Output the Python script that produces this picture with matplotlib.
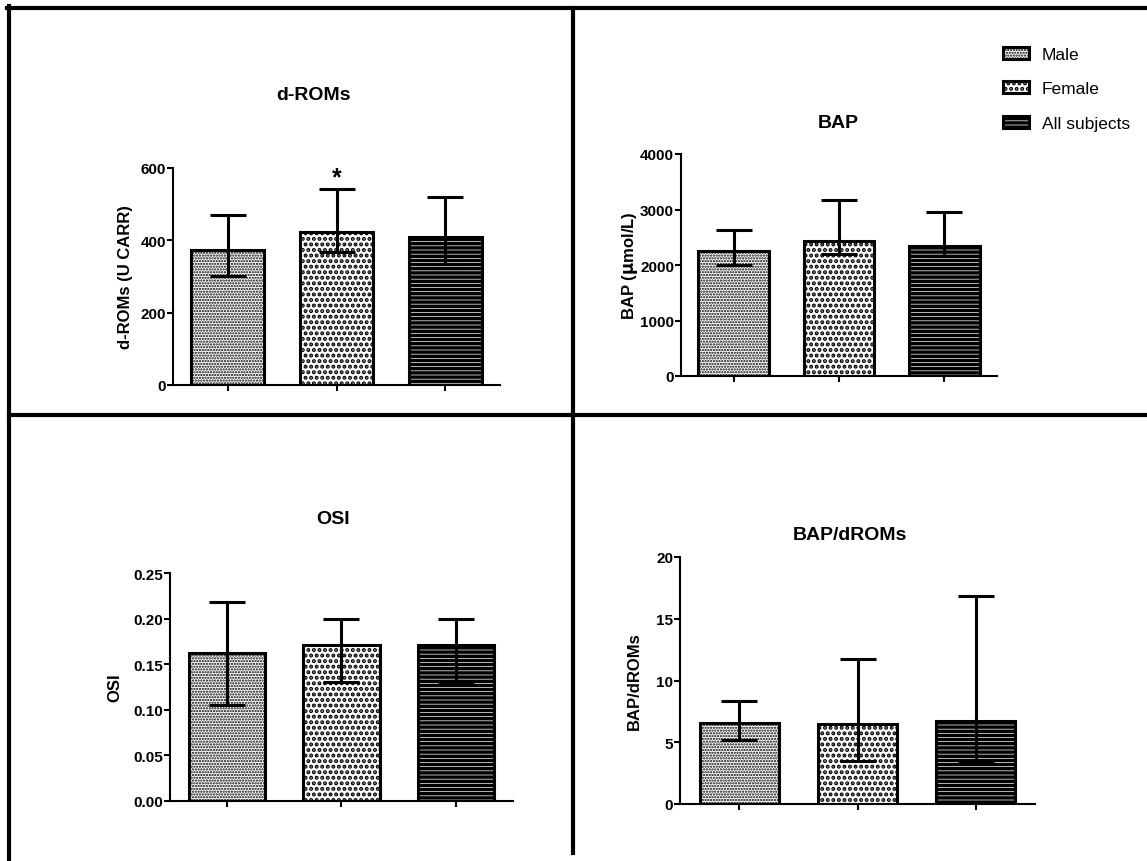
import matplotlib
matplotlib.use("Agg")
import matplotlib.pyplot as plt
from matplotlib.lines import Line2D

plt.rcParams.update(
    {
        "font.family": ["Liberation Sans", "DejaVu Sans"],
        "font.weight": "bold",
        "axes.linewidth": 1.5,
        "xtick.major.width": 1.5,
        "ytick.major.width": 1.5,
        "xtick.major.size": 4,
        "ytick.major.size": 4,
    }
)

W, H = 1147, 862

groups = ["Male", "Female", "All subjects"]
hatches = ["......", "...", "----"]
hatch_widths = [1.1, 2.0, 2.5]

droms_mean = [374, 422, 408]
droms_upper = [471, 543, 519]
droms_lower = [302, 367, 334]

bap_mean = [2245, 2436, 2334]
bap_upper = [2635, 3176, 2948]
bap_lower = [2003, 2190, 2154]

osi_mean = [0.162, 0.171, 0.171]
osi_upper = [0.218, 0.200, 0.200]
osi_lower = [0.105, 0.131, 0.131]

ratio_mean = [6.59, 6.49, 6.76]
ratio_upper = [8.32, 11.74, 16.85]
ratio_lower = [5.22, 3.52, 3.39]

droms_ticks = [0, 200, 400, 600]
bap_ticks = [0, 1000, 2000, 3000, 4000]
osi_ticks = [0.00, 0.05, 0.10, 0.15, 0.20, 0.25]
ratio_ticks = [0, 5, 10, 15, 20]


def px_axes(fig, left, top, right, bottom):
    return fig.add_axes([left / W, 1 - bottom / H, (right - left) / W, (bottom - top) / H])


def with_hatch_lw(patch, lw):
    if hasattr(patch, "set_hatch_linewidth"):
        patch.set_hatch_linewidth(lw)
    orig = patch.draw

    def draw(renderer):
        with plt.rc_context({"hatch.linewidth": lw}):
            orig(renderer)

    patch.draw = draw


def draw_panel(ax, mean, upper, lower, ticks, ylabel, fmt):
    for i, name in enumerate(groups):
        bars = ax.bar(
            i,
            mean[i],
            width=0.67,
            facecolor="white",
            edgecolor="black",
            linewidth=2.2,
            hatch=hatches[i],
            label=name,
            zorder=2,
        )
        for b in bars:
            with_hatch_lw(b, hatch_widths[i])
        ax.errorbar(
            i,
            mean[i],
            yerr=[[mean[i] - lower[i]], [upper[i] - mean[i]]],
            fmt="none",
            ecolor="black",
            elinewidth=2.2,
            capsize=13,
            capthick=2.2,
            zorder=3,
        )
    ax.set_xlim(-0.5, 2.5)
    ax.set_ylim(ticks[0], ticks[-1])
    ax.set_yticks(ticks)
    ax.set_yticklabels([fmt.format(t) for t in ticks], fontsize=11, fontweight="bold")
    ax.set_xticks(range(len(groups)))
    ax.set_xticklabels([])
    ax.spines[["top", "right"]].set_visible(False)
    ax.tick_params(direction="out", pad=1)
    ax.set_ylabel(ylabel, fontsize=12, fontweight="bold")


fig = plt.figure(figsize=(W / 100, H / 100), dpi=100)

ax1 = px_axes(fig, 173, 169, 500, 386)
draw_panel(ax1, droms_mean, droms_upper, droms_lower, droms_ticks, "d-ROMs (U CARR)", "{:d}")
ax1.text(1, 540, "*", ha="center", va="bottom", fontsize=18, fontweight="bold")

ax2 = px_axes(fig, 681, 155, 997, 377)
draw_panel(ax2, bap_mean, bap_upper, bap_lower, bap_ticks, "BAP ($\\mathbf{\\mu}$mol/L)", "{:d}")

ax3 = px_axes(fig, 170, 574, 513, 802)
draw_panel(ax3, osi_mean, osi_upper, osi_lower, osi_ticks, "OSI", "{:.2f}")

ax4 = px_axes(fig, 680, 558, 1035, 805)
draw_panel(ax4, ratio_mean, ratio_upper, ratio_lower, ratio_ticks, "BAP/dROMs", "{:d}")

ax1.yaxis.set_label_coords(-0.122, 0.5)
ax2.yaxis.set_label_coords(-0.130, 0.5)
ax3.yaxis.set_label_coords(-0.140, 0.5)
ax4.yaxis.set_label_coords(-0.107, 0.5)

titles = [("d-ROMs", 313, 96), ("BAP", 838, 123), ("OSI", 333, 519), ("BAP/dROMs", 850, 535)]
for txt, x, y in titles:
    fig.text(x / W, 1 - y / H, txt, ha="center", va="center", fontsize=14, fontweight="bold")

handles, labels = ax2.get_legend_handles_labels()
leg = fig.legend(
    handles,
    labels,
    loc="upper left",
    bbox_to_anchor=(994 / W, 1 - 39 / H),
    frameon=False,
    prop={"size": 12.5, "weight": "normal"},
    handlelength=1.5,
    handleheight=0.7,
    handletextpad=0.75,
    labelspacing=1.12,
    borderpad=0,
)
for p, lw in zip(leg.get_patches(), hatch_widths):
    with_hatch_lw(p, lw)

# panel frame lines
frame = [
    ((7, 1147), (9, 9)),
    ((9, 9), (7, 862)),
    ((9, 1147), (416, 416)),
    ((573, 573), (9, 854)),
]
for xs, ys in frame:
    fig.add_artist(
        Line2D([x / W for x in xs], [1 - y / H for y in ys], color="black", linewidth=3, transform=fig.transFigure)
    )

fig.savefig("out.png", dpi=100, facecolor="white")
